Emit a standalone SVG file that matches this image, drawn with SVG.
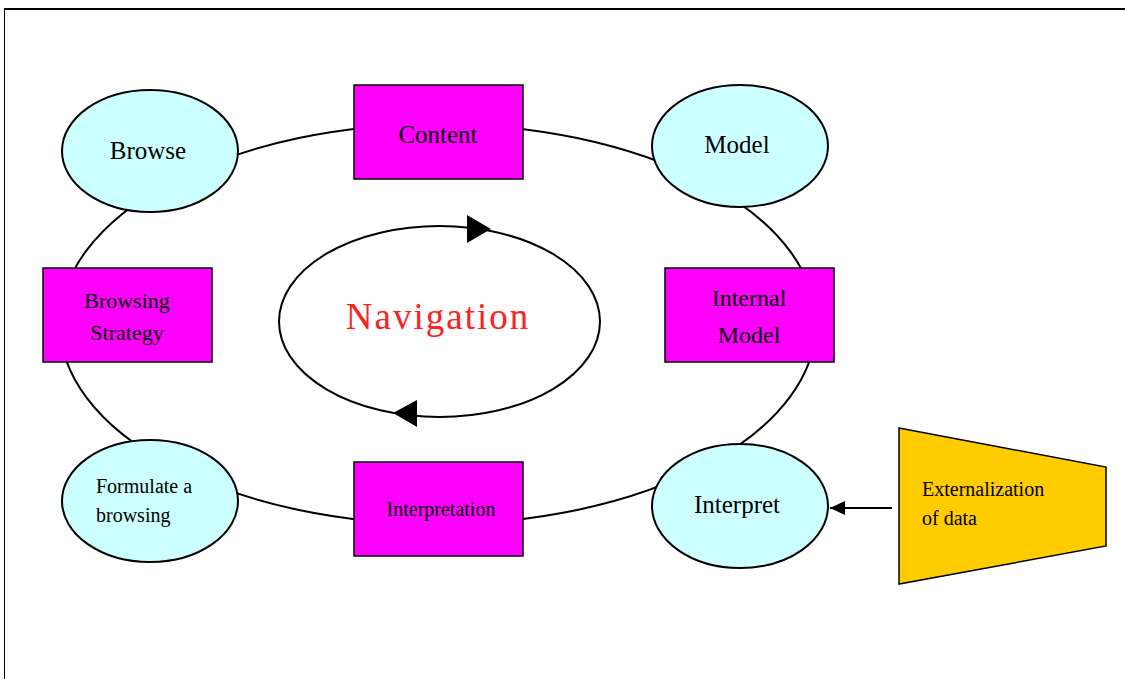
<svg xmlns="http://www.w3.org/2000/svg" width="1125" height="679" viewBox="0 0 1125 679">
<style>
.ell{fill:#CCFFFF;stroke:#000;stroke-width:2}
.box{fill:#FF00FF;stroke:#000;stroke-width:1.5}
.t{font-family:"Liberation Serif","Times New Roman",serif;fill:#000}
.c{text-anchor:middle}
.ln{fill:none;stroke:#000;stroke-width:2}
</style>
<defs>
<marker id="ah" viewBox="0 0 15 14" refX="15" refY="7" markerWidth="15" markerHeight="14" markerUnits="userSpaceOnUse" orient="auto">
<path d="M0,0 L15,7 L0,14 Z" fill="#000"/>
</marker>
</defs>
<rect width="1125" height="679" fill="#fff"/>
<g id="frame">
<line x1="4" y1="9" x2="1125" y2="9" stroke="#000" stroke-width="2"/>
<line x1="4.5" y1="9" x2="4.5" y2="679" stroke="#000" stroke-width="1"/>
</g>
<g id="connectors">
<ellipse cx="438" cy="324" rx="378" ry="200" class="ln"/>
<ellipse cx="439.5" cy="321.5" rx="160.5" ry="95.5" class="ln"/>
<polygon points="467,215 491,229 467,243" fill="#000"/>
<polygon points="417,400 393,413 417,427" fill="#000"/>
<line x1="892" y1="508" x2="830" y2="508" class="ln" marker-end="url(#ah)"/>
</g>
<g id="browse">
<ellipse cx="150" cy="151" rx="88" ry="61" class="ell"/>
<text x="148" y="159" class="t c" font-size="25">Browse</text>
</g>
<g id="content">
<rect x="354" y="85" width="169" height="94" class="box"/>
<text x="438" y="143" class="t c" font-size="25">Content</text>
</g>
<g id="model">
<ellipse cx="740" cy="146" rx="88" ry="61" class="ell"/>
<text x="737" y="153" class="t c" font-size="25">Model</text>
</g>
<g id="browsing-strategy">
<rect x="43" y="268" width="169" height="94" class="box"/>
<text x="127" y="308" class="t c" font-size="22">Browsing</text>
<text x="127" y="340" class="t c" font-size="22">Strategy</text>
</g>
<g id="internal-model">
<rect x="665" y="268" width="169" height="94" class="box"/>
<text x="749" y="306" class="t c" font-size="24">Internal</text>
<text x="749" y="343" class="t c" font-size="24">Model</text>
</g>
<g id="navigation">
<text x="438" y="329" class="c" font-family="'Liberation Serif','Times New Roman',serif" font-size="37" letter-spacing="2" fill="#FF2020">Navigation</text>
</g>
<g id="formulate">
<ellipse cx="150" cy="501" rx="88" ry="61" class="ell"/>
<text x="96" y="493" class="t" font-size="20">Formulate a</text>
<text x="96" y="522" class="t" font-size="20">browsing</text>
</g>
<g id="interpretation">
<rect x="354" y="462" width="169" height="94" class="box"/>
<text x="441" y="516" class="t c" font-size="20">Interpretation</text>
</g>
<g id="interpret">
<ellipse cx="740" cy="506" rx="88" ry="62" class="ell"/>
<text x="737" y="513" class="t c" font-size="25">Interpret</text>
</g>
<g id="externalization">
<polygon points="899,428 1106,467 1106,546 899,584" fill="#FFCC00" stroke="#000" stroke-width="1.5"/>
<text x="922" y="496" class="t" font-size="20">Externalization</text>
<text x="922" y="525" class="t" font-size="20">of data</text>
</g>
</svg>
